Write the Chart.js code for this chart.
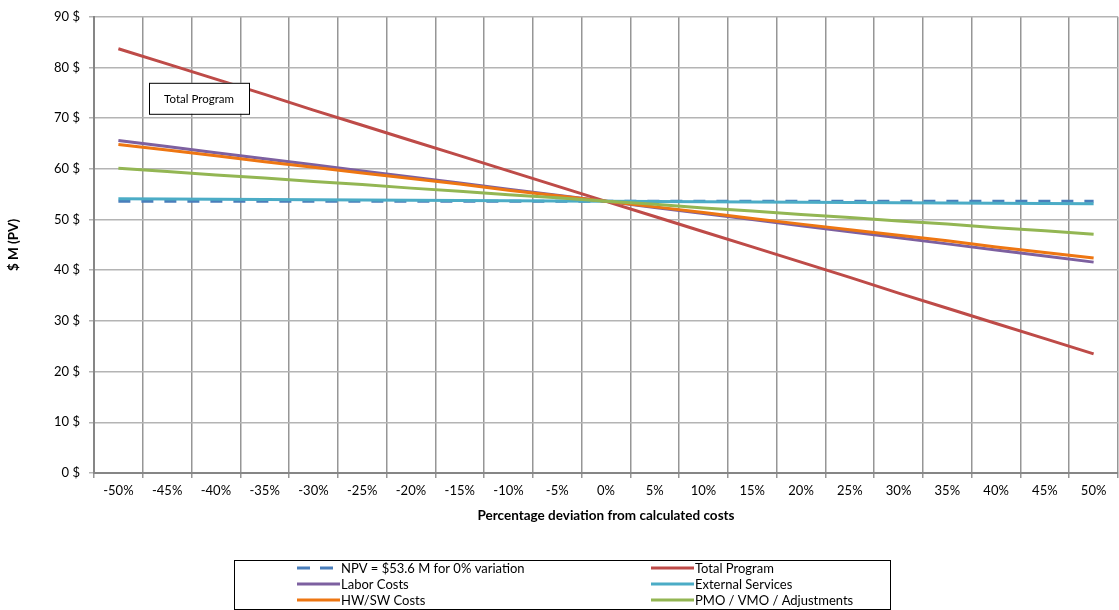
<!DOCTYPE html>
<html>
<head>
<meta charset="utf-8">
<script src="https://cdn.jsdelivr.net/npm/chart.js@4.4.1/dist/chart.umd.min.js"></script>
<style>
  html, body { margin: 0; padding: 0; background: #ffffff; }
  #wrap { width: 1119px; height: 610px; }
</style>
</head>
<body>
<div id="wrap"><canvas id="c" width="1119" height="610"></canvas></div>
<script>
// Deviation steps applied to the cost drivers
const deviations = ['-50%', '-45%', '-40%', '-35%', '-30%', '-25%', '-20%', '-15%', '-10%', '-5%', '0%',
                    '5%', '10%', '15%', '20%', '25%', '30%', '35%', '40%', '45%', '50%'];

// NPV in $ M (PV) for each deviation
const npvBase = [53.6, 53.6, 53.6, 53.6, 53.6, 53.6, 53.6, 53.6, 53.6, 53.6, 53.6,
                 53.6, 53.6, 53.6, 53.6, 53.6, 53.6, 53.6, 53.6, 53.6, 53.6];
const totalProgram = [83.7, 80.7, 77.7, 74.7, 71.6, 68.6, 65.6, 62.6, 59.6, 56.6, 53.6,
                      50.6, 47.6, 44.6, 41.6, 38.6, 35.5, 32.5, 29.5, 26.5, 23.5];
const laborCosts = [65.6, 64.4, 63.2, 62.0, 60.8, 59.6, 58.4, 57.2, 56.0, 54.8, 53.6,
                    52.4, 51.2, 50.0, 48.8, 47.6, 46.4, 45.2, 44.0, 42.8, 41.6];
const externalServices = [54.1, 54.05, 54.0, 53.95, 53.9, 53.85, 53.8, 53.75, 53.7, 53.65, 53.6,
                          53.55, 53.5, 53.45, 53.4, 53.35, 53.3, 53.25, 53.2, 53.15, 53.1];
const hwSwCosts = [64.8, 63.7, 62.6, 61.4, 60.3, 59.2, 58.1, 57.0, 55.8, 54.7, 53.6,
                   52.5, 51.4, 50.2, 49.1, 48.0, 46.9, 45.8, 44.6, 43.5, 42.4];
const pmoVmoAdj = [60.1, 59.5, 58.8, 58.2, 57.5, 56.9, 56.2, 55.6, 54.9, 54.3, 53.6,
                   53.0, 52.3, 51.7, 51.0, 50.4, 49.7, 49.1, 48.4, 47.8, 47.1];

const seriesNames = ['NPV = $53.6 M for 0% variation', 'Total Program', 'Labor Costs',
                     'External Services', 'HW/SW Costs', 'PMO / VMO / Adjustments'];

const FONT = 'Lato, "Open Sans", sans-serif';
const colors = ['#4A7EBB', '#BE4B48', '#7D60A0', '#4BACC6', '#EE7612', '#93B653'];
const values = [npvBase, totalProgram, laborCosts, externalServices, hwSwCosts, pmoVmoAdj];

const datasets = values.map((v, i) => ({
  label: seriesNames[i],
  data: v,
  borderColor: colors[i],
  backgroundColor: colors[i],
  borderWidth: 3,
  borderDash: i === 0 ? [12, 11] : [],
  pointRadius: 0,
  pointHoverRadius: 0,
  tension: 0,
  fill: false,
  order: values.length - i   // later series are painted on top
}));

// Axis titles, boxed legend and the text-box callout
const decorations = {
  id: 'decorations',
  afterDraw(chart) {
    const ctx = chart.ctx;
    const a = chart.chartArea;
    ctx.save();

    // axis titles
    ctx.fillStyle = '#000';
    ctx.font = 'bold 13.5px ' + FONT;
    ctx.textAlign = 'center';
    ctx.textBaseline = 'middle';
    ctx.fillText('Percentage deviation from calculated costs', (a.left + a.right) / 2, a.bottom + 43);
    ctx.save();
    ctx.translate(14, (a.top + a.bottom) / 2);
    ctx.rotate(-Math.PI / 2);
    ctx.fillText('$ M (PV)', 0, 0);
    ctx.restore();

    // callout box
    const bx = a.left + 55, by = a.top + 66, bw = 100, bh = 31;
    ctx.fillStyle = '#fff';
    ctx.fillRect(bx, by, bw, bh);
    ctx.strokeStyle = '#000';
    ctx.lineWidth = 1;
    ctx.strokeRect(bx + 0.5, by + 0.5, bw, bh);
    ctx.fillStyle = '#000';
    ctx.font = '11.5px ' + FONT;
    ctx.fillText('Total Program', bx + bw / 2, by + bh / 2 + 1);

    // legend
    const lx = 234, ly = 560, lw = 656, lh = 49;
    ctx.strokeStyle = '#000';
    ctx.strokeRect(lx + 0.5, ly + 0.5, lw, lh);
    ctx.font = '13px ' + FONT;
    ctx.textAlign = 'left';
    const colX = [297, 651];
    const rowY = [568, 584, 600];
    seriesNames.forEach((name, i) => {
      const cx = colX[i % 2], cy = rowY[Math.floor(i / 2)];
      const len = i === 0 ? 36 : 43;
      ctx.strokeStyle = colors[i];
      ctx.lineWidth = 3;
      ctx.setLineDash(i === 0 ? [13, 10] : []);
      ctx.beginPath();
      ctx.moveTo(cx, cy);
      ctx.lineTo(cx + len, cy);
      ctx.stroke();
      ctx.setLineDash([]);
      ctx.fillStyle = '#000';
      ctx.fillText(name, cx + 44, cy + 1);
    });
    ctx.restore();
  }
};

new Chart(document.getElementById('c'), {
  type: 'line',
  data: { labels: deviations, datasets },
  options: {
    responsive: false,
    animation: false,
    events: [],
    layout: { padding: { top: 14, right: 1, bottom: 0, left: 0 } },
    plugins: { legend: { display: false }, tooltip: { enabled: false } },
    scales: {
      x: {
        type: 'category',
        offset: true,
        grid: { offset: true, color: '#969696', lineWidth: 1.5, tickLength: 5, drawTicks: true },
        border: { color: '#868686', width: 2 },
        ticks: { color: '#000', font: { family: FONT, size: 13 }, padding: 5, maxRotation: 0, autoSkip: false },
        afterFit: s => { s.height = 137; }
      },
      y: {
        min: 0, max: 90,
        grid: { color: '#b4b4b4', lineWidth: 1.5, tickLength: 5 },
        border: { color: '#868686', width: 2 },
        ticks: { stepSize: 10, color: '#000', font: { family: FONT, size: 13 }, padding: 9,
                 callback: v => v + ' $' },
        afterFit: s => { s.width = 94; }
      }
    }
  },
  plugins: [decorations]
});
</script>
</body>
</html>
